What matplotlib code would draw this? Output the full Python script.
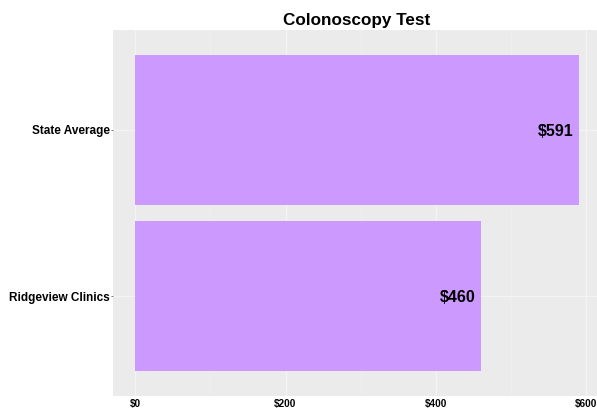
import matplotlib.pyplot as plt

plt.rcParams['font.family'] = ['Liberation Sans', 'DejaVu Sans']

# data
clinics = ["Ridgeview Clinics", "State Average"]
prices = [460, 591]
x_ticks = [0, 200, 400, 600]
x_minor = [100, 300, 500]

fig = plt.figure(figsize=(5.97, 4.09), dpi=100)
W, H = 597, 409
ax = fig.add_axes([113 / W, 1 - 396 / H, 488.6 / W, 366 / H])
ax.set_facecolor('#EBEBEB')

pos = list(range(1, len(clinics) + 1))
ax.barh(pos, prices, height=0.9, color='#CC99FF', zorder=2)

for p, v in zip(pos, prices):
    ax.annotate(f"${v}", xy=(v, p), xytext=(-4, 0), textcoords='offset points',
                ha='right', va='center_baseline', fontsize=11.5, fontweight='bold', zorder=3)

pad = 0.05 * max(prices)
ax.set_xlim(-pad, max(prices) + pad)
ax.set_ylim(0.4, len(clinics) + 0.6)

ax.set_xticks(x_ticks)
ax.set_xticklabels([f"${t}" for t in x_ticks], fontsize=7.2, fontweight='bold')
ax.set_xticks(x_minor, minor=True)
ax.set_yticks(pos)
ax.set_yticklabels(clinics, fontsize=8.5, fontweight='bold')

ax.grid(True, which='major', color='#F4F4F4', linewidth=0.9, zorder=0)
ax.grid(True, which='minor', axis='x', color='#F0F0F0', linewidth=0.5, zorder=0)
ax.tick_params(axis='y', which='major', length=1.8, color='#666666', width=0.6, pad=0.3)
ax.tick_params(axis='x', which='major', length=0, pad=2)
ax.tick_params(which='minor', length=0)
for s in ax.spines.values():
    s.set_visible(False)
ax.set_axisbelow(True)

fig.text(357 / W, 1 - 20 / H, "Colonoscopy Test", ha='center', va='center',
         fontsize=12.3, fontweight='bold')

fig.savefig('out.png', dpi=100)
